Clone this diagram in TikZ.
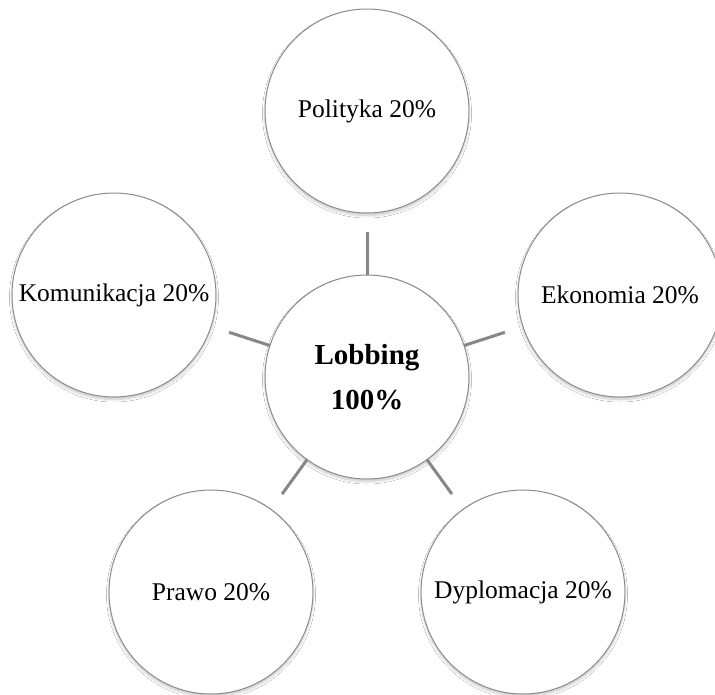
\documentclass[tikz,border=0pt]{standalone}
\usepackage{fontspec}
\setmainfont{Liberation Serif}
\usetikzlibrary{shadows.blur}
\begin{document}
\begin{tikzpicture}[x=1pt,y=-1pt,
  bubble/.style={circle, draw=black!45, line width=1pt, fill=white,
    minimum size=204pt, inner sep=0pt, outer sep=0pt,
    blur shadow={shadow xshift=0pt, shadow yshift=-2.5pt, shadow blur radius=2.5pt, shadow opacity=22, shadow blur steps=8},
    font=\fontsize{25.5}{30}\selectfont},
  hub/.style={bubble, font=\fontsize{29}{45}\selectfont\bfseries, align=center},
  conn/.style={draw=black!47, line width=3pt, shorten >=19pt}]
\useasboundingbox[fill=white] (0,0) rectangle (715,694);
\node[hub] (c) at (367,377) {Lobbing\\100\%};
\node[bubble] (pol) at (367,111) {Polityka 20\%};
\node[bubble] (kom) at (114,295) {Komunikacja 20\%};
\node[bubble] (eko) at (620,295) {Ekonomia 20\%};
\node[bubble] (pra) at (211,592) {Prawo 20\%};
\node[bubble] (dyp) at (523,592) {Dyplomacja 20\%};
\foreach \t in {pol,kom,eko,pra,dyp}{
  \draw[conn] (c) -- (\t);
}
\end{tikzpicture}
\end{document}
